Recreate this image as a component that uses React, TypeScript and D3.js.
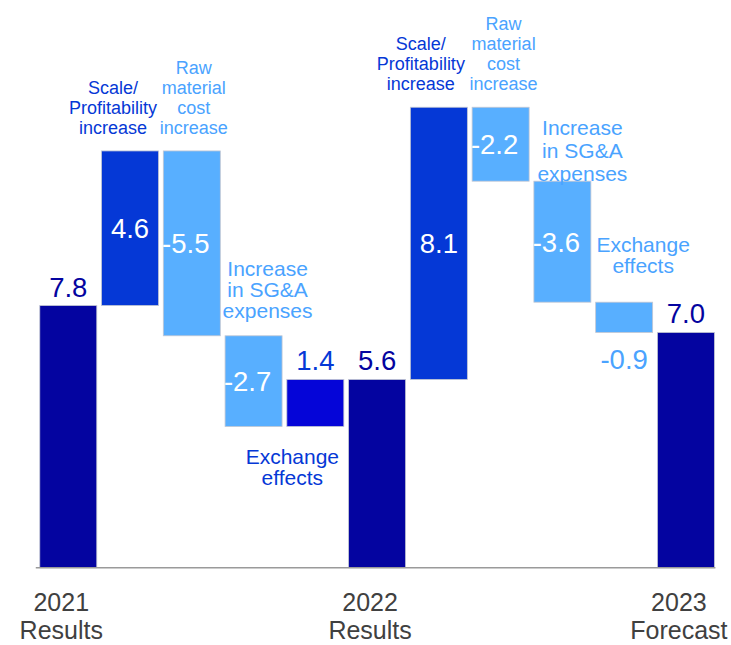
import React from "react";
import * as d3 from "d3";

// ---- data ----
const categories = [
  "2021 Results",
  "Scale/Profitability increase",
  "Raw material cost increase",
  "Increase in SG&A expenses",
  "Exchange effects",
  "2022 Results",
  "Scale/Profitability increase",
  "Raw material cost increase",
  "Increase in SG&A expenses",
  "Exchange effects",
  "2023 Forecast",
];
const values = [7.8, 4.6, -5.5, -2.7, 1.4, 5.6, 8.1, -2.2, -3.6, -0.9, 7.0];
const kinds = ["total", "delta", "delta", "delta", "delta", "total", "delta", "delta", "delta", "delta", "total"];
const axisLabels = [["2021", "Results"], [], [], [], [], ["2022", "Results"], [], [], [], [], ["2023", "Forecast"]];
const noteLines = [
  [],
  ["Scale/", "Profitability", "increase"],
  ["Raw", "material", "cost", "increase"],
  ["Increase", "in SG&A", "expenses"],
  ["Exchange", "effects"],
  [],
  ["Scale/", "Profitability", "increase"],
  ["Raw", "material", "cost", "increase"],
  ["Increase", "in SG&A", "expenses"],
  ["Exchange", "effects"],
  [],
];

// ---- style / layout ----
const W = 731;
const H = 645;
const FONT = "'Liberation Sans', Arial, Helvetica, sans-serif";
const NAVY = "#0404A0";
const ROYAL = "#0538D6";
const VIVID = "#0505D8";
const LIGHT = "#58AFFF";
const LIGHT_TEXT = "#4AA3FF";
const GRAY_TEXT = "#404040";

const fills = [NAVY, ROYAL, LIGHT, LIGHT, VIVID, NAVY, ROYAL, LIGHT, LIGHT, LIGHT, NAVY];
// where the value label sits
const valuePos = ["above", "inside", "inside", "inside", "above", "above", "inside", "inside", "inside", "below", "above"];
const valueColor = [NAVY, "#fff", "#fff", "#fff", ROYAL, NAVY, "#fff", "#fff", "#fff", LIGHT_TEXT, NAVY];
// annotation layout: side, dx, offset of reference baseline, font size, line height, color
const noteStyle: any[] = [
  null,
  { side: "above", dx: -17, off: 17, fs: 18, lh: 20, color: ROYAL },
  { side: "above", dx: 2, off: 17, fs: 18, lh: 20, color: LIGHT_TEXT },
  { side: "above", dx: 14, off: 18, fs: 21, lh: 21, color: LIGHT_TEXT },
  { side: "below", dx: -23, off: 37, fs: 21, lh: 21, color: ROYAL },
  null,
  { side: "above", dx: -18, off: 17, fs: 18, lh: 20, color: ROYAL },
  { side: "above", dx: 3, off: 17, fs: 18, lh: 20, color: LIGHT_TEXT },
  { side: "above", dx: 20, off: 0, fs: 21, lh: 23, color: LIGHT_TEXT },
  { side: "above", dx: 19, off: 29, fs: 21, lh: 21, color: LIGHT_TEXT },
  null,
];

export default function App() {
  const baseY = 567.7;
  const y = d3.scaleLinear().domain([0, 14]).range([baseY, baseY - 33.61 * 14]);
  const x = d3
    .scaleBand<number>()
    .domain(d3.range(values.length))
    .range([37.4, 716.8])
    .paddingInner(0.077)
    .paddingOuter(0.0385);
  const bw = x.bandwidth();

  let running = 0;
  const bars = values.map((v, i) => {
    let lo: number, hi: number;
    if (kinds[i] === "total") {
      lo = 0;
      hi = v;
      running = v;
    } else {
      const start = running;
      running = start + v;
      lo = Math.min(start, running);
      hi = Math.max(start, running);
    }
    return { i, v, lo, hi, top: y(hi), bottom: y(lo), x0: x(i) as number };
  });

  const valueFs = 27.5;

  return (
    <>
      <style>{`body{margin:0;}`}</style>
      <svg width={W} height={H} style={{ display: "block", fontFamily: FONT }}>
        <rect width={W} height={H} fill="#fff" />
        {bars.map((b) => (
          <rect
            key={"bar" + b.i}
            x={b.x0}
            y={b.top}
            width={bw}
            height={b.bottom - b.top}
            fill={fills[b.i]}
            stroke="#C3C7D3"
            strokeWidth={0.8}
          />
        ))}
        <line
          x1={(x(0) as number) - 4}
          x2={(x(values.length - 1) as number) + bw + 1}
          y1={baseY}
          y2={baseY}
          stroke="#9A9A9A"
          strokeWidth={1.6}
        />
        {bars.map((b) => {
          const cx = b.x0 + bw / 2;
          const pos = valuePos[b.i];
          const label = b.v.toFixed(1);
          let ty: number;
          let dx = 0;
          if (pos === "above") ty = b.top - 9;
          else if (pos === "below") ty = b.bottom + 36.5;
          else {
            ty = (b.top + b.bottom) / 2 + 10;
            if (b.v < 0) dx = -6;
          }
          return (
            <text
              key={"val" + b.i}
              x={cx + dx}
              y={ty}
              textAnchor="middle"
              fontSize={valueFs}
              fill={valueColor[b.i]}
            >
              {label}
            </text>
          );
        })}
        {bars.map((b) => {
          const st = noteStyle[b.i];
          const lines = noteLines[b.i];
          if (!st || !lines.length) return null;
          const cx = b.x0 + bw / 2 + st.dx;
          const n = lines.length;
          const firstBaseline =
            st.side === "above" ? b.top - st.off - (n - 1) * st.lh : b.bottom + st.off;
          return (
            <text
              key={"note" + b.i}
              textAnchor="middle"
              fontSize={st.fs}
              fill={st.color}
            >
              {lines.map((l: string, k: number) => (
                <tspan key={k} x={cx} y={firstBaseline + k * st.lh}>
                  {l}
                </tspan>
              ))}
            </text>
          );
        })}
        {bars.map((b) => {
          const lines = axisLabels[b.i];
          if (!lines.length) return null;
          const cx = b.x0 + bw / 2 - 7;
          return (
            <text key={"ax" + b.i} textAnchor="middle" fontSize={25} fill={GRAY_TEXT}>
              {lines.map((l, k) => (
                <tspan key={k} x={cx} y={baseY + 43 + k * 28}>
                  {l}
                </tspan>
              ))}
            </text>
          );
        })}
      </svg>
    </>
  );
}
